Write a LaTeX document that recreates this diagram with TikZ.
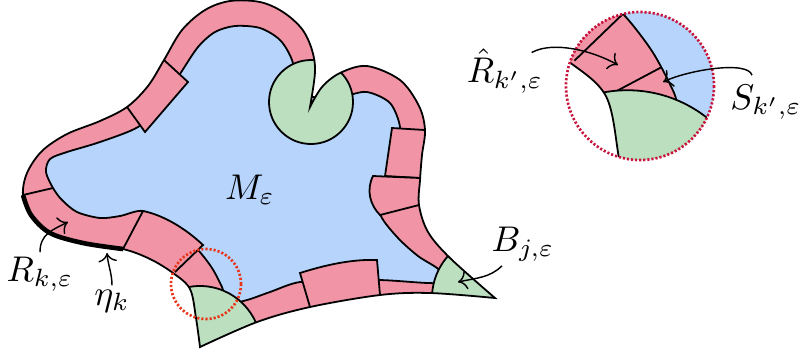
\documentclass[tikz,border=0pt]{standalone}
\usetikzlibrary{arrows.meta}
\usetikzlibrary{positioning}

\definecolor{bandpink}{RGB}{240,148,166}
\definecolor{bulkblue}{RGB}{183,212,252}
\definecolor{cornergreen}{RGB}{188,223,192}
\definecolor{lensred}{RGB}{232,52,24}
\definecolor{zoomred}{RGB}{200,20,60}

\tikzset{
  outerline/.style={insert path={
    plot[smooth,tension=0.55] coordinates {(200,347) (196,318) (190,289) (173,273) (150,259) (123,249) (83,243) (50,233) (31,215) (23,195) (27,173) (42,151) (67,134) (100,121) (127,107) (148,86) (164,60) (182,30) (205,10) (230,1) (260,2) (283,12) (302,29) (312,50) (315,72) (310,107)}
    -- plot[smooth,tension=0.55] coordinates {(310,107) (322,87) (340,73) (367,66) (400,80) (419,106) (425,130) (422,155) (420,180) (419,205) (428,232) (450,258) (495,298)}
    -- plot[smooth,tension=0.55] coordinates {(495,298) (430,293) (380,295) (310,307) (257,322) (200,347)}
    -- cycle}},
  innerline/.style={insert path={
    plot[smooth cycle,tension=0.5] coordinates {(228,303) (222,287) (212,268) (199,251) (185,238) (165,225) (143,211) (120,216) (100,218) (77,212) (62,200) (53,188) (46,172) (50,159) (67,152) (100,142) (138,127) (160,105) (180,74) (198,47) (215,32) (235,26) (260,28) (280,40) (292,60) (300,92) (325,98) (345,96) (367,92) (390,103) (400,127) (396,150) (392,175) (383,198) (381,216) (398,238) (418,256) (437,268) (452,282) (428,283) (378,280) (340,283) (300,282) (270,292) (247,300)}}},
  cell/.style={fill=bandpink, draw=black},
  corner/.style={fill=cornergreen, draw=black},
  lbl/.style={inner sep=1pt},
  pointer/.style={->, thin},
  lens/.style={draw=lensred, line width=0.75pt, dash pattern=on 0.6pt off 0.55pt},
  zoomring/.style={draw=zoomred, line width=0.75pt, dash pattern=on 0.6pt off 0.55pt}
}

% the manifold with its boundary cells; #1 is drawn under the bulk
\newcommand{\drawregion}[1]{%
  \fill[bandpink, outerline];
  #1
  \filldraw[fill=bulkblue, draw=black, innerline];
  \begin{scope}
    \clip[outerline];
    \filldraw[cell] (127,107) -- (145,132) -- (188,82) -- (164,60);
    \filldraw[cell] (123,249) -- (143,211) .. controls (163,215) and (185,228) .. (203,245) -- (175,272);
    \filldraw[cell] (310,307) -- (300,273) .. controls (325,265) and (352,259) .. (377,260) -- (380,295);
    \filldraw[cell] (425,130) -- (392,128) -- (385,176) -- (420,178);
    \filldraw[cell] (420,178) -- (373,176) .. controls (366,190) and (370,205) .. (380,215) -- (419,205);
    \filldraw[corner] (200,347) circle (61);
    \filldraw[corner] (311,102) circle (42);
    \filldraw[corner] (495,298) circle (63);
  \end{scope}
  \draw (23,195) -- (53,188);
  \draw[outerline];
  \draw[line width=1.3pt] plot[smooth,tension=0.55] coordinates {(23,195) (31,215) (50,233) (83,243) (123,249)};
}

\begin{document}
\begin{tikzpicture}[x=0.28pt, y=-0.28pt, line width=0.5pt]
  \useasboundingbox (0,0) rectangle (801,356);

  \drawregion{}
  \draw[lens] (206,284) circle (35);

  % magnified view of the lens
  \begin{scope}
    \clip (640,86) circle (74);
    \begin{scope}[shift={(640,86)}, scale=2.114, shift={(-206,-284)}]
      \drawregion{\draw (190,289) -- (222,272);}
    \end{scope}
  \end{scope}
  \draw[zoomring] (640,86) circle (74);

  % labels
  \node[lbl] (M) at (250,190) {$M_\varepsilon$};
  \node[lbl] (R) at (40,274) {$R_{k,\varepsilon}$};
  \node[lbl] (eta) at (112,301) {$\eta_k$};
  \node[lbl] (B) at (523,244) {$B_{j,\varepsilon}$};
  \node[lbl] (Rh) at (505,71) {$\hat{R}_{k',\varepsilon}$};
  \node[lbl] (S) at (766,102) {$S_{k',\varepsilon}$};

  \coordinate (rk) at (68,222);
  \coordinate (ek) at (107,253);
  \coordinate (bj) at (458,282);
  \coordinate (rh) at (618,65);
  \coordinate (sk) at (663,82);

  \draw[pointer] (R.north) .. controls +(0,-18) and +(-16,8) .. (rk);
  \draw[pointer] (eta.north) .. controls +(0,-12) and +(1,12) .. (ek);
  \draw[pointer] ([shift={(-21,0)}]B.south) .. controls +(-12,12) and +(18,-4) .. (bj);
  \draw[pointer] ([shift={(-16,8)}]Rh.north east) .. controls +(22,-12) and +(-25,-14) .. (rh);
  \draw[pointer] ([shift={(-14,-5)}]S.north) .. controls +(-4,-15) and +(25,-12) .. (sk);
\end{tikzpicture}
\end{document}
